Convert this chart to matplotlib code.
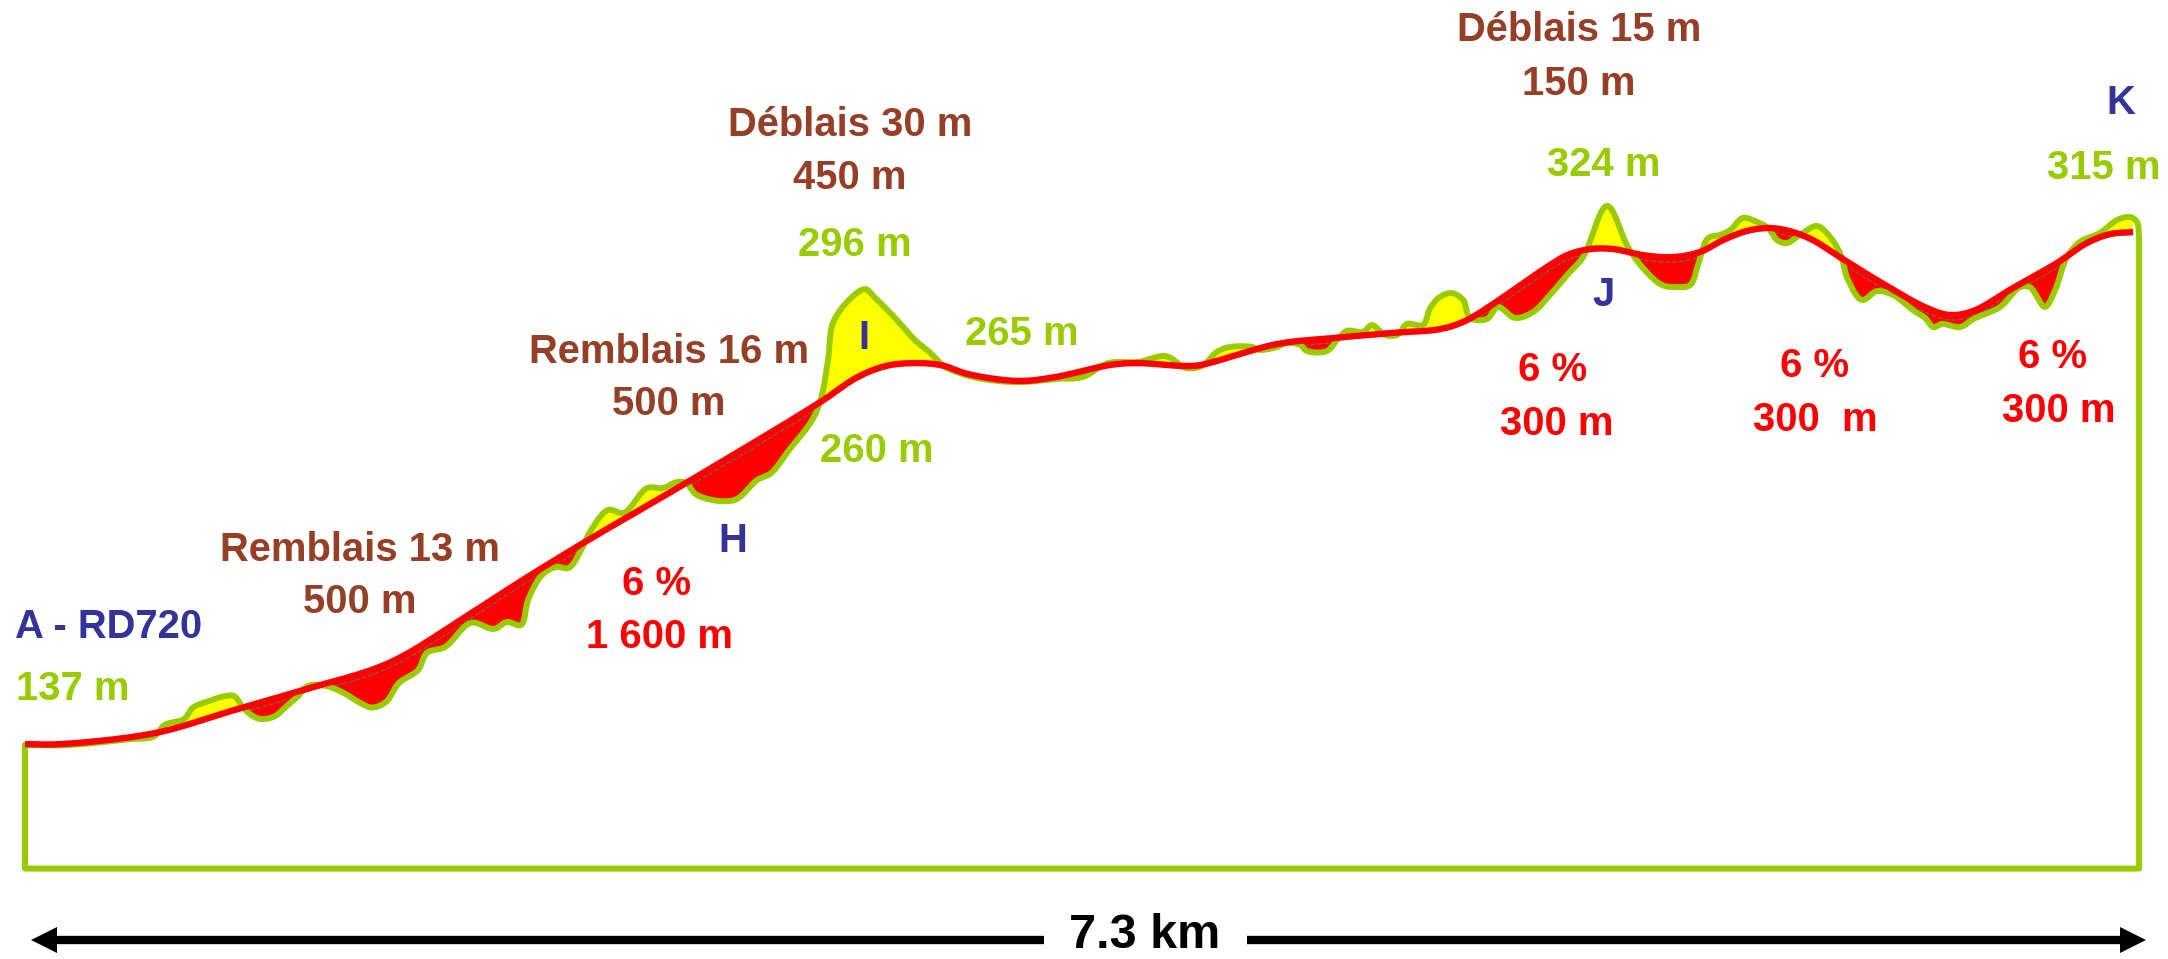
import matplotlib
matplotlib.use("Agg")
import matplotlib.pyplot as plt
from matplotlib.lines import Line2D
from matplotlib.patches import Polygon
import numpy as np

plt.rcParams['font.family'] = ['Liberation Sans', 'DejaVu Sans']

# terrain profile (km along route, altitude in m)
terrain_km = [0.00, 0.152, 0.359, 0.445, 0.483, 0.549, 0.580, 0.628, 0.691, 0.722, 0.753, 0.787, 0.818, 0.863,
              0.898, 0.943, 0.977, 1.039, 1.102, 1.150, 1.198, 1.247, 1.291, 1.357, 1.388, 1.450, 1.540, 1.619,
              1.664, 1.713, 1.737, 1.785, 1.834, 1.878, 1.920, 1.951, 2.013, 2.068, 2.148, 2.203, 2.251, 2.283,
              2.320, 2.448, 2.528, 2.576, 2.638, 2.718, 2.749, 2.773, 2.790, 2.845, 2.901, 2.932, 3.004, 3.073,
              3.122, 3.177, 3.225, 3.305, 3.432, 3.560, 3.653, 3.740, 3.843, 3.940, 4.009, 4.064, 4.116, 4.161,
              4.237, 4.264, 4.323, 4.358, 4.403, 4.427, 4.496, 4.530, 4.565, 4.620, 4.651, 4.696, 4.738, 4.772,
              4.827, 4.852, 4.886, 4.928, 4.966, 4.990, 5.048, 5.086, 5.145, 5.207, 5.266, 5.325, 5.380, 5.463,
              5.535, 5.587, 5.653, 5.705, 5.750, 5.777, 5.812, 5.853, 5.888, 5.932, 5.981, 6.019, 6.050, 6.084,
              6.129, 6.188, 6.233, 6.267, 6.295, 6.343, 6.395, 6.450, 6.519, 6.561, 6.589, 6.620, 6.682, 6.727,
              6.820, 6.889, 6.923, 6.975, 7.010, 7.051, 7.096, 7.165, 7.224, 7.269, 7.293, 7.300]
terrain_alt = [137, 137, 139, 140, 144, 146, 150, 152, 154, 154, 150, 147, 146, 147,
               150, 154, 157.5, 157.5, 155, 152, 150, 152, 158.5, 163, 169, 171, 179.4, 177.3,
               179.7, 178.7, 187.3, 196, 198.8, 198.5, 204.7, 211, 218.6, 217.6, 226.2, 226.2, 228.3, 228,
               223.8, 222, 229, 231.4, 239.4, 249.8, 257.5, 270.7, 283.5, 291.5, 295.3, 292.6, 285.3, 277.6,
               273.5, 268.3, 266.2, 264.1, 263, 264.1, 264.8, 269.6, 270, 272, 267.9, 268.6, 273.5, 275.2,
               275.2, 274.2, 275.2, 276.6, 275.9, 273.8, 273.8, 277.6, 280.8, 280.4, 282.8, 279.4, 279.4, 283.2,
               282.8, 288.7, 292.6, 293.9, 291.5, 285.3, 284.9, 289.1, 285.3, 287.3, 293.3, 300.2, 306.4, 324.2,
               309.9, 302.6, 296.7, 296, 296.7, 303.7, 313, 314.1, 315.8, 320, 318.6, 316.5, 312.3, 311.3,
               314.1, 317.2, 313.4, 307.8, 298.5, 291.5, 294.6, 293.3, 288, 285.3, 282.1, 283.2, 282.1, 284.9,
               289.1, 296, 296, 289.1, 295, 306.4, 311.7, 314.8, 319.3, 320.3, 318.6, 313.4]

# road profile
road_km = [0.00, 0.121, 0.452, 0.708, 0.960, 1.257, 1.530, 1.700, 1.927, 2.283, 2.742, 2.876, 2.973, 3.066, 3.163,
           3.256, 3.432, 3.560, 3.750, 3.843, 4.002, 4.057, 4.323, 4.517, 4.724, 4.886, 4.966, 5.048, 5.256, 5.325,
           5.404, 5.484, 5.587, 5.691, 5.784, 5.863, 5.946, 6.026, 6.105, 6.174, 6.267, 6.405, 6.568, 6.647,
           6.727, 6.865, 7.017, 7.120, 7.200, 7.279]
road_alt = [137.3, 137.3, 141.2, 148.7, 156.1, 165.5, 182.1, 193.1, 207.1, 228, 255.8, 264.8, 268.6, 269.6, 268.9,
            265.8, 263.4, 264.8, 269, 269.6, 268.6, 268.9, 276.2, 278.3, 280.1, 281.4, 283.9, 288.7, 303, 307.1,
            309.2, 309.2, 307.1, 306.4, 308.2, 312.3, 315.5, 316.5, 315.1, 312.3, 306.4, 297.8, 288.7, 286.3,
            287.7, 295.7, 304.4, 311.3, 314.4, 315.1]

base_alt = 94.1
total_km = 7.3

GREEN = '#99cc00'
RED = '#ff0000'
YELLOW = '#ffff00'
BROWN = '#963f26'
BLUE = '#333399'

W, H = 2168, 959
KM_PX = 289.6
ALT_PX = 2.88
fig = plt.figure(figsize=(W / 100, H / 100), dpi=100, facecolor='white')
ax = fig.add_axes([0, 0, 1, 1])
ax.set_xlim(-25 / KM_PX, (W - 25) / KM_PX)
ax.set_ylim(137 - (H - 745) / ALT_PX, 137 + 745 / ALT_PX)
ax.axis('off')


def curve(x, y, n=14):
    # rounded line through the read points (centripetal catmull-rom), the original is hand smoothed
    p = np.column_stack([np.asarray(x, float) * KM_PX, np.asarray(y, float) * ALT_PX])
    t = np.r_[0, np.cumsum(np.hypot(*np.diff(p, axis=0).T) ** 0.5)]
    d = np.diff(p, axis=0) / np.diff(t)[:, None]
    m = np.zeros_like(p)
    m[0], m[-1] = d[0], d[-1]
    m[1:-1] = d[:-1] + d[1:] - (p[2:] - p[:-2]) / (t[2:] - t[:-2])[:, None]
    out = [p[:1]]
    for i in range(len(p) - 1):
        h = t[i + 1] - t[i]
        u = np.linspace(0, 1, n + 1)[1:, None]
        out.append((2 * u ** 3 - 3 * u ** 2 + 1) * p[i] + (u ** 3 - 2 * u ** 2 + u) * h * m[i]
                   + (-2 * u ** 3 + 3 * u ** 2) * p[i + 1] + (u ** 3 - u ** 2) * h * m[i + 1])
    out = np.vstack(out)
    return out[:, 0] / KM_PX, out[:, 1] / ALT_PX


line_tx, line_ty = curve(terrain_km, terrain_alt)
line_rx, line_ry = curve(road_km, road_alt)

# common x only for the two fills
grid = np.linspace(0, road_km[-1], 5000)
t = np.interp(grid, np.maximum.accumulate(line_tx), line_ty)
r = np.interp(grid, np.maximum.accumulate(line_rx), line_ry)
ax.fill_between(grid, r, t, where=t >= r, color=YELLOW, lw=0, zorder=1)
ax.fill_between(grid, r, t, where=t <= r, color=RED, lw=0, zorder=1)

# thin grey line left under the road in the cuts
under = np.ma.masked_where(t > r - 2.6, r - 1.7)
ax.plot(grid, under, color='#8a5a5a', lw=0.9, ls=(0, (4, 1.5)), zorder=2)

outline_x = list(line_tx) + [total_km, 0, 0]
outline_y = list(line_ty) + [base_alt, base_alt, terrain_alt[0]]
ax.plot(outline_x, outline_y, color=GREEN, lw=4.3, solid_joinstyle='round', solid_capstyle='round', zorder=3)
ax.plot(line_rx, line_ry, color=RED, lw=4.6, solid_joinstyle='round', solid_capstyle='butt', zorder=4)


def label(x, y, s, color, size=28.8):
    fig.text(x / W, 1 - (y + 2) / H, s, color=color, fontsize=size, fontweight='bold', ha='center', va='center')


label(1579, 28, 'Déblais 15 m', BROWN)
label(1579, 82, '150 m', BROWN)
label(850, 123, 'Déblais 30 m', BROWN)
label(850, 176, '450 m', BROWN)
label(669, 350, 'Remblais 16 m', BROWN)
label(669, 402, '500 m', BROWN)
label(360, 548, 'Remblais 13 m', BROWN)
label(360, 600, '500 m', BROWN)

label(1604, 163, '324 m', GREEN)
label(2104, 166, '315 m', GREEN)
label(855, 243, '296 m', GREEN)
label(1022, 332, '265 m', GREEN)
label(877, 449, '260 m', GREEN)
label(73, 687, '137 m', GREEN)

label(109, 625, 'A - RD720', BLUE)
label(2121, 101, 'K', BLUE)
label(864, 336, 'I', BLUE)
label(733, 539, 'H', BLUE)
label(1604, 293, 'J', BLUE)

label(657, 582, '6 %', RED)
label(660, 635, '1 600 m', RED)
label(1553, 368, '6 %', RED)
label(1557, 422, '300 m', RED)
label(1815, 364, '6 %', RED)
label(1815, 418, '300  m', RED)
label(2053, 355, '6 %', RED)
label(2059, 409, '300 m', RED)

label(1145, 933, '7.3 km', 'black', size=35)


# length arrow under the profile
def fig_xy(x, y):
    return x / W, 1 - y / H


for x0, x1 in [(55, 1044), (1247, 2121)]:
    fig.add_artist(Line2D([x0 / W, x1 / W], [1 - 940 / H, 1 - 940 / H], color='black', lw=6, solid_capstyle='butt'))
fig.add_artist(Polygon([fig_xy(31, 940), fig_xy(57, 927), fig_xy(57, 953)], closed=True, color='black', lw=0,
                       transform=fig.transFigure))
fig.add_artist(Polygon([fig_xy(2146, 940), fig_xy(2120, 927), fig_xy(2120, 953)], closed=True, color='black', lw=0,
                       transform=fig.transFigure))

fig.savefig('out.png', dpi=100)
